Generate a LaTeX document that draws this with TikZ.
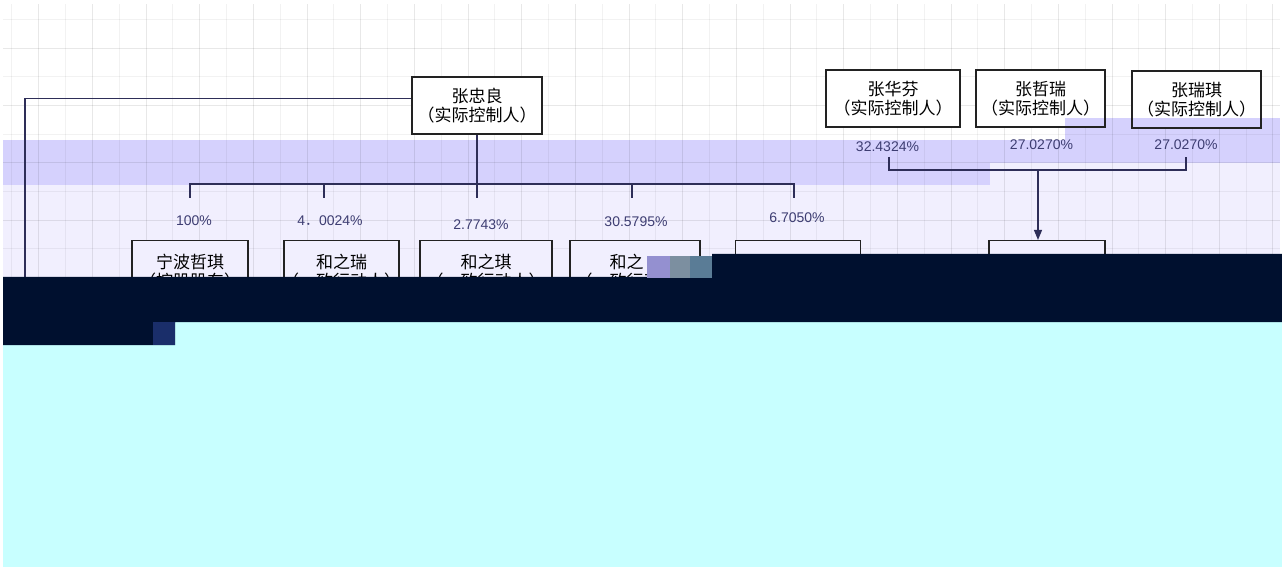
\documentclass[tikz,border=0pt]{standalone}
\usepackage{fontspec}
\setmainfont{Liberation Sans}
\newfontfamily\cjk{Noto Sans CJK SC}
\usetikzlibrary{arrows.meta}
\definecolor{lav}{HTML}{D5D1FD}
\definecolor{lavlight}{HTML}{F1EFFE}
\definecolor{darkband}{HTML}{00102F}
\definecolor{cyanfill}{HTML}{C8FFFF}
\definecolor{conncol}{HTML}{2E2E58}
\definecolor{labcol}{HTML}{3D3D72}
\definecolor{boxline}{HTML}{222222}
\definecolor{glitcha}{HTML}{9490D0}
\definecolor{glitchb}{HTML}{7C8FA0}
\definecolor{glitchc}{HTML}{5A7C96}
\definecolor{glitchd}{HTML}{1A2E6A}
\newcommand{\twoline}[2]{\makebox[0pt]{#1}\\\makebox[0pt]{#2}}
\tikzset{
  entity/.style={draw=boxline, line width=1.1pt, fill=white, align=center, inner sep=0pt,
    font=\cjk\fontsize{17}{19}\selectfont, text=black},
  entitylow/.style={entity, fill=lavlight, minimum height=62pt},
  pct/.style={font=\fontsize{14}{16}\selectfont, text=labcol, inner sep=0pt},
  conn/.style={draw=conncol, line width=1.2pt},
  gridmajor/.style={draw=black, opacity=0.09, line width=1pt},
  gridminor/.style={draw=black, opacity=0.05, line width=1pt},
}
\begin{document}
\begin{tikzpicture}[x=1pt,y=-1pt]
\useasboundingbox (0,0) rectangle (1282,569);
\fill[white] (0,0) rectangle (1282,569);
% tinted bands
\fill[lavlight] (3,163) rectangle (1280,330);
\fill[lav] (3,140) rectangle (1280,163);
\fill[lav] (3,163) rectangle (990,185);
\fill[lav] (1065,118) rectangle (1280,140);
% grid
\foreach \i in {0,...,23} \draw[gridmajor] ({38.8+53.66*\i},4) -- ({38.8+53.66*\i},330);
\foreach \i in {-1,...,22} \draw[gridminor] ({65.63+53.66*\i},4) -- ({65.63+53.66*\i},330);
\foreach \j in {0,...,4} \draw[gridmajor] (3,{48.3+57.3*\j}) -- (1280,{48.3+57.3*\j});
\foreach \j in {0,...,4} \draw[gridminor] (3,{19.65+57.3*\j}) -- (1280,{19.65+57.3*\j});

% top row boxes
\node[entity, minimum width=130pt, minimum height=57pt] (zl) at (477,105.5) {\twoline{张忠良}{（实际控制人）}};
\node[entity, minimum width=134pt, minimum height=57pt] (hf) at (893,98.5) {\twoline{张华芬}{（实际控制人）}};
\node[entity, minimum width=129pt, minimum height=57pt,
  path picture={\fill[lav] ([xshift=-40pt,yshift=9pt]path picture bounding box.south east) rectangle (path picture bounding box.south east);}]
  (zr) at (1040.5,98.5) {\twoline{张哲瑞}{（实际控制人）}};
\node[entity, minimum width=129pt, minimum height=57pt,
  path picture={\fill[lav] ([yshift=10pt]path picture bounding box.south west) rectangle (path picture bounding box.south east);}]
  (zq) at (1196.5,99.5) {\twoline{张瑞琪}{（实际控制人）}};

% second row boxes
\node[entitylow, minimum width=116pt] (f1) at (190,271.5) {\twoline{宁波哲琪}{（控股股东）}};
\node[entitylow, minimum width=115pt] (f2) at (341.5,271.5) {\twoline{和之瑞}{（一致行动人）}};
\node[entitylow, minimum width=132pt] (f3) at (486,271.5) {\twoline{和之琪}{（一致行动人）}};
\node[entitylow, minimum width=130pt] (f4) at (635,271.5) {\twoline{和之\phantom{瑞}}{（一致行动人）}};
\node[entitylow, minimum width=125pt] (f5) at (798,271.5) {};
\node[entitylow, minimum width=116pt] (f6) at (1047,271.5) {};

% percentages
\node[pct] (p1) at (194,221) {100\%};
\node[pct] (p2) at (330,221) {4{\cjk ．}0024\%};
\node[pct] (p3) at (481,225) {2.7743\%};
\node[pct] (p4) at (636,221.5) {30.5795\%};
\node[pct] (p5) at (797,218) {6.7050\%};
\node[pct] (q1) at (887.5,146.5) {32.4324\%};
\node[pct] (q2) at (1041.5,145) {27.0270\%};
\node[pct] (q3) at (1186,145) {27.0270\%};

% connectors, left group
\coordinate (c1) at (25,98.3);
\coordinate (c2) at (25,300);
\coordinate (b1) at (190,184);
\coordinate (b2) at (324,184);
\coordinate (b4) at (632,184);
\coordinate (b5) at (794,184);
\coordinate (t1) at (190,198);
\coordinate (t2) at (324,198);
\coordinate (t3) at (477,198);
\coordinate (t4) at (632,198);
\coordinate (t5) at (794,198);
\draw[conn] (zl.west |- c1) -- (c1) -- (c2);
\draw[conn] (zl.south) -- (t3);
\draw[conn] (t1) -- (b1) -- (b5) -- (t5);
\draw[conn] (b2) -- (t2);
\draw[conn] (b4) -- (t4);

% connectors, right group
\coordinate (s1) at (889,157);
\coordinate (s3) at (1186,157);
\coordinate (r1) at (889,170);
\coordinate (r2) at (1038,170);
\coordinate (r3) at (1186,170);
\draw[conn] (s1) -- (r1) -- (r3) -- (s3);
\draw[conn, -{Triangle[length=10pt,width=8pt]}] (r2) -- (r2 |- f6.north);

% damaged lower part of the picture
\fill[cyanfill] (3,322) rectangle (1282,567);
\fill[darkband] (3,277) -- (712,277) -- (712,254) -- (1282,254) -- (1282,322)
  -- (175,322) -- (175,345) -- (3,345) -- cycle;
\fill[glitcha] (647,256) rectangle (670,278);
\fill[glitchb] (670,256) rectangle (690,278);
\fill[glitchc] (690,256) rectangle (712,278);
\fill[glitchd] (153,322) rectangle (175,345);
\end{tikzpicture}
\end{document}
